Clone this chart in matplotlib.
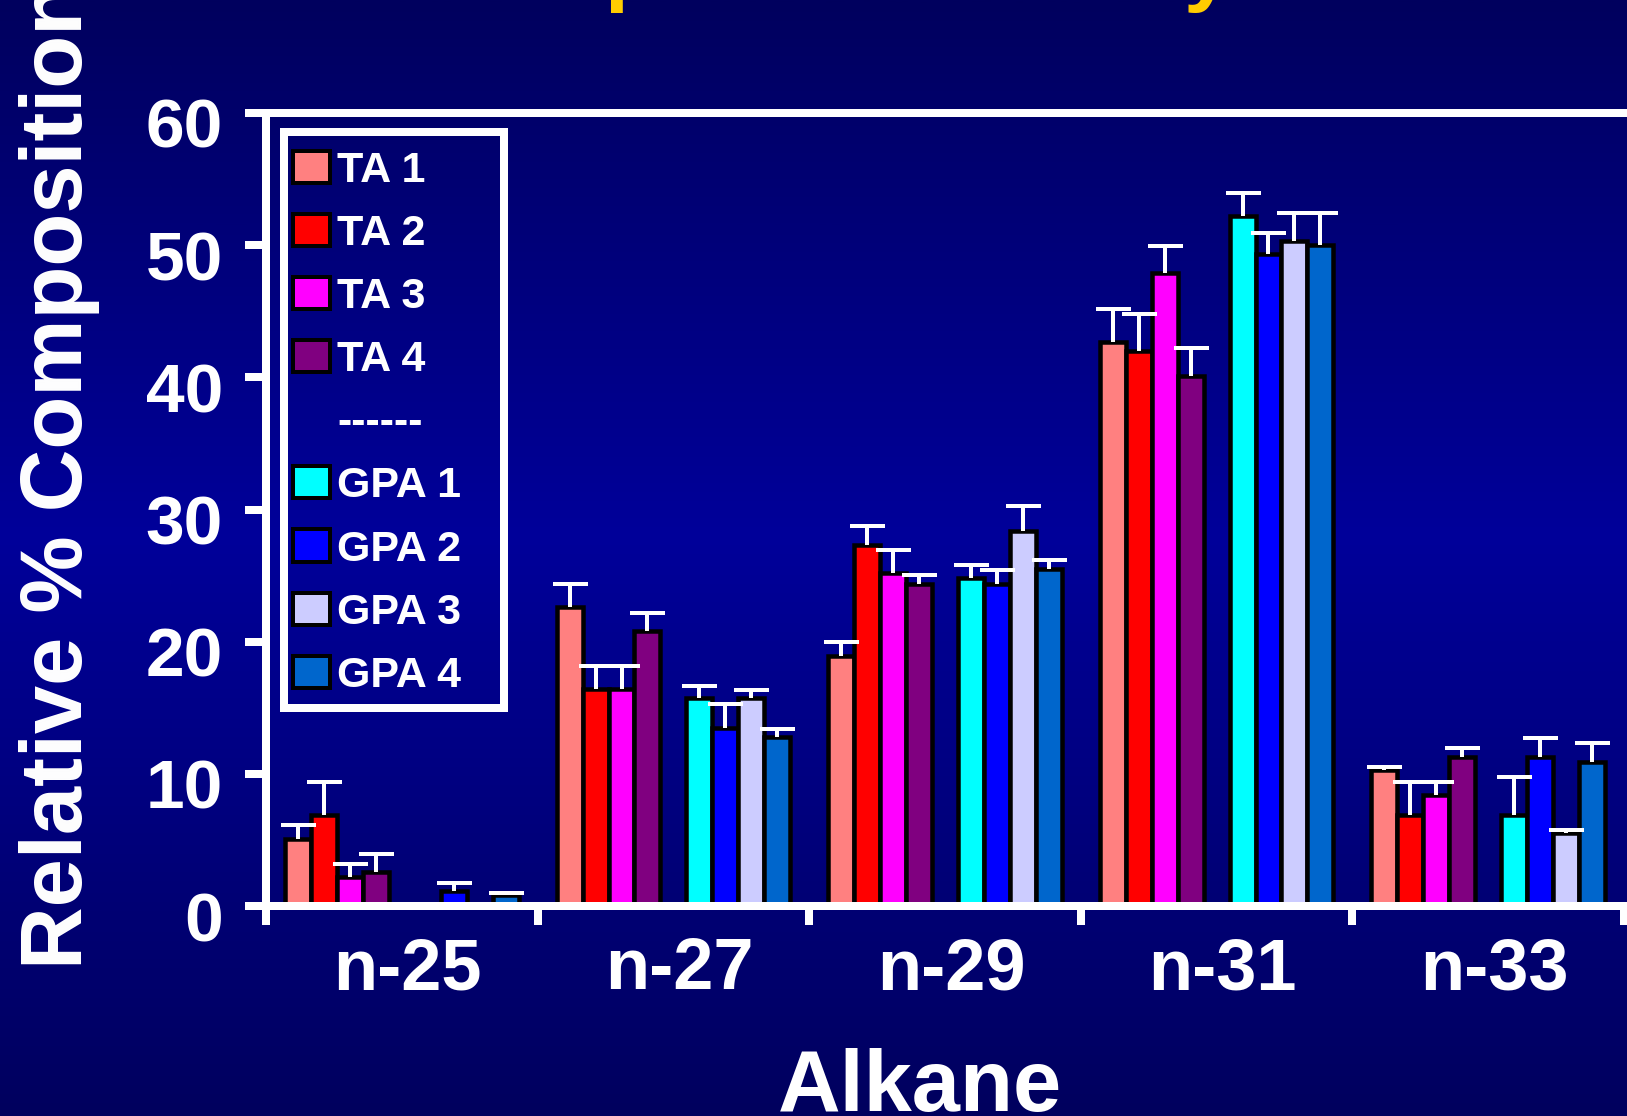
import numpy as np
import matplotlib
matplotlib.use("Agg")
import matplotlib.pyplot as plt
from matplotlib.colors import LinearSegmentedColormap
from matplotlib.patches import Patch, Rectangle
from matplotlib.transforms import ScaledTranslation

# ---- data -------------------------------------------------------------
categories = ["n-25", "n-27", "n-29", "n-31", "n-33"]
series = ["TA 1", "TA 2", "TA 3", "TA 4", "GPA 1", "GPA 2", "GPA 3", "GPA 4"]

ta1 = [5.1, 22.6, 18.9, 42.7, 10.3]
ta2 = [6.9, 16.4, 27.3, 42.0, 6.9]
ta3 = [2.2, 16.4, 25.2, 47.9, 8.4]
ta4 = [2.6, 20.8, 24.4, 40.1, 11.3]
gpa1 = [0.0, 15.7, 24.8, 52.2, 6.9]
gpa2 = [1.1, 13.5, 24.4, 49.3, 11.3]
gpa3 = [0.0, 15.7, 28.4, 50.3, 5.5]
gpa4 = [0.8, 12.8, 25.5, 50.0, 10.9]

ta1_err = [1.0, 1.75, 1.05, 2.45, 0.2]
ta2_err = [2.5, 1.75, 1.45, 2.8, 2.45]
ta3_err = [1.0, 1.75, 1.7, 2.0, 0.95]
ta4_err = [1.3, 1.35, 0.65, 2.15, 0.65]
gpa1_err = [0.0, 0.95, 1.0, 1.75, 2.85]
gpa2_err = [0.65, 1.75, 1.05, 1.65, 1.4]
gpa3_err = [0.0, 0.65, 1.85, 2.15, 0.25]
gpa4_err = [0.2, 0.6, 0.65, 2.45, 1.45]

yticks = [0, 10, 20, 30, 40, 50, 60]

values = [ta1, ta2, ta3, ta4, gpa1, gpa2, gpa3, gpa4]
errors = [ta1_err, ta2_err, ta3_err, ta4_err, gpa1_err, gpa2_err, gpa3_err, gpa4_err]
colors = ["#FF8080", "#FF0000", "#FF00FF", "#800080",
          "#00FFFF", "#0000FF", "#CCCCFF", "#0066CC"]

# ---- figure -----------------------------------------------------------
W, H, DPI = 1627, 1116, 100
FONT = "Liberation Sans"
fig = plt.figure(figsize=(W / DPI, H / DPI), dpi=DPI)
px = 72.0 / DPI  # points per pixel

# navy slide background with vertical gradient
bg = fig.add_axes([0, 0, 1, 1], zorder=-10)
bg.set_axis_off()
cmap = LinearSegmentedColormap.from_list(
    "navy", [(0.0, "#00005E"), (0.48, "#00009A"), (1.0, "#00005E")])
grad = np.linspace(0, 1, 512).reshape(-1, 1)
bg.imshow(grad, aspect="auto", cmap=cmap, extent=[0, 1, 0, 1],
          origin="upper")
bg.set_xlim(0, 1)
bg.set_ylim(0, 1)

# plot axes
x_left, x_right = 266, 1629
y_top, y_zero = 113, 906
ax = fig.add_axes([x_left / W, (H - y_zero) / H,
                   (x_right - x_left) / W, (y_zero - y_top) / H])
ax.set_facecolor("none")

x = np.arange(len(categories))
slot = 0.0955
offsets = [-4, -3, -2, -1, 1, 2, 3, 4]

for name, vals, errs, col, k in zip(series, values, errors, colors, offsets):
    pos = x + k * slot
    ax.bar(pos, vals, width=slot, color=col, edgecolor="black",
           linewidth=4.5 * px, zorder=2, label=name)
    eb = ax.errorbar(pos, vals, yerr=[np.zeros(len(errs)), errs], fmt="none",
                     ecolor="white", elinewidth=4 * px, capsize=17.5 * px,
                     capthick=4 * px, zorder=3)
    # one-sided bars: keep only the upper cap
    for cap in eb[1]:
        if np.allclose(cap.get_ydata(), vals):
            cap.set_visible(False)

ax.set_ylim(0, 60)
ax.set_xlim(-0.5, 4.5 + (x_right - 1624) / 271.8)

for side in ["left", "right", "top", "bottom"]:
    ax.spines[side].set_color("white")
    ax.spines[side].set_linewidth(8 * px)
    ax.spines[side].set_zorder(4)

ax.set_yticks(yticks)
ax.set_yticklabels([str(v) for v in yticks])
ax.tick_params(axis="y", direction="out", length=21 * px, width=8 * px,
               color="white", labelcolor="white", labelsize=50,
               pad=22 * px)
for lab in ax.get_yticklabels():
    lab.set_fontfamily(FONT)
    lab.set_fontweight("bold")
    lab.set_transform(lab.get_transform()
                      + ScaledTranslation(0, -10 / DPI, fig.dpi_scale_trans))

# boundary ticks between categories, labels at category centres
ax.set_xticks(np.arange(-0.5, len(categories), 1.0))
ax.set_xticklabels([])
ax.set_xticks(x, minor=True)
ax.set_xticklabels(categories, minor=True)
ax.tick_params(axis="x", which="major", direction="out", length=19 * px,
               width=8 * px, color="white")
ax.tick_params(axis="x", which="minor", length=0, labelcolor="white",
               labelsize=52, pad=30 * px)
for lab in ax.get_xticklabels(minor=True):
    lab.set_fontfamily(FONT)
    lab.set_fontweight("bold")
    lab.set_transform(lab.get_transform()
                      + ScaledTranslation(6 / DPI, 0, fig.dpi_scale_trans))

# axis titles
fig.text(920 / W, 5 / H, "Alkane", ha="center", va="baseline",
         color="white", fontsize=62.5, fontweight="bold", family=FONT)
fig.text(82 / W, (H - 475) / H, "Relative % Composition", rotation=90,
         rotation_mode="anchor", ha="center", va="baseline",
         color="white", fontsize=62.5, fontweight="bold", family=FONT)

# title line sits mostly above the visible area
fig.text(604 / W, (H + 5) / H, "p", ha="left", va="baseline",
         color="#FFCC00", fontsize=62.5, fontweight="bold", family=FONT)
fig.text(1183 / W, (H + 5) / H, "y", ha="left", va="baseline",
         color="#FFCC00", fontsize=62.5, fontweight="bold", family=FONT)

# legend: TA group, separator, GPA group
handles = [Patch(facecolor=c, edgecolor="black", linewidth=4 * px)
           for c in colors]
blank = Patch(facecolor="none", edgecolor="none")
leg_handles = handles[:4] + [blank] + handles[4:]
leg_labels = series[:4] + ["------"] + series[4:]
leg = ax.legend(leg_handles, leg_labels, loc="upper left",
                bbox_to_anchor=((293 - x_left) / (x_right - x_left),
                                (y_zero - 151) / (y_zero - y_top)),
                frameon=False, borderpad=0, borderaxespad=0,
                handlelength=0.86, handleheight=0.77, handletextpad=0.17,
                labelspacing=0.535,
                prop={"family": FONT, "weight": "bold", "size": 31})
for t in leg.get_texts():
    t.set_color("white")
leg.set_zorder(5)

# white frame around the legend
ax.add_patch(Rectangle(((284 - x_left) / (x_right - x_left),
                        (y_zero - 708) / (y_zero - y_top)),
                       (504 - 284) / (x_right - x_left),
                       (708 - 132) / (y_zero - y_top),
                       transform=ax.transAxes, fill=False,
                       edgecolor="white", linewidth=8 * px,
                       clip_on=False, zorder=5))

fig.savefig("out.png", dpi=DPI)
